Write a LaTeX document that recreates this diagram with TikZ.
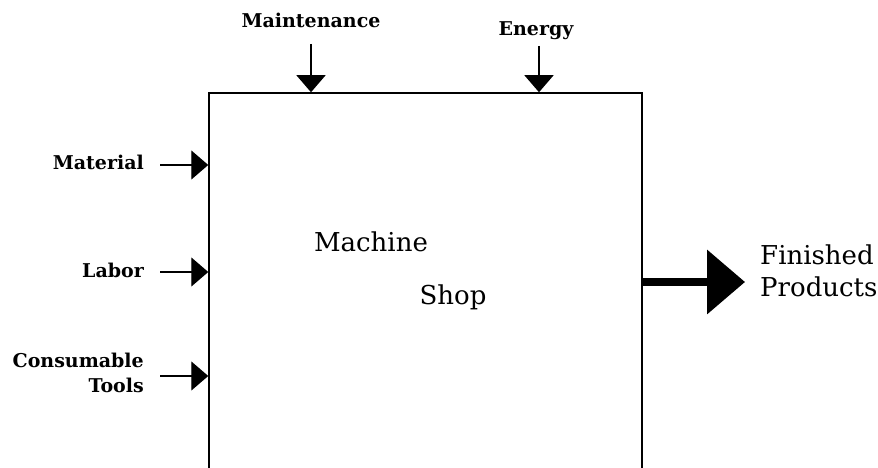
\documentclass[tikz,border=0pt]{standalone}
\usepackage{fontspec}
\setmainfont{DejaVu Serif}
\usepackage{tikz}
\usetikzlibrary{arrows.meta,positioning,calc}

\begin{document}
\begin{tikzpicture}[x=1pt, y=1pt,
  lbl/.style={font=\bfseries\fontsize{19}{25}\selectfont, inner sep=0pt},
  big/.style={font=\fontsize{26}{32}\selectfont, inner sep=0pt},
  inarrow/.style={-{Triangle[length=17pt,width=29pt]}, line width=1.3pt},
  outarrow/.style={-{Triangle[length=38pt,width=63pt]}, line width=7.5pt}]
\useasboundingbox (0,0) rectangle (878,468);
\clip (0,0) rectangle (878,468);
% the shop box, cut off at the bottom
\node[draw, line width=1.5pt, minimum width=433pt, minimum height=427pt, inner sep=0pt]
  (shop) at (425.5,161.5) {};
\node[big, anchor=base] (mach) at (371,216) {Machine};
\node[big, anchor=base] (shp) at (453,163) {Shop};
% controls from above
\node[lbl, anchor=base] (maint) at (311,440) {Maintenance};
\node[lbl, anchor=base] (enrg) at (536,432) {Energy};
\coordinate (maintin) at (311,424);
\coordinate (enrgin) at (539,422);
\draw[inarrow] (maintin) -- (maintin |- shop.north);
\draw[inarrow] (enrgin) -- (enrgin |- shop.north);
% inputs from the left
\node[lbl, anchor=base east] (mat) at (144,298) {Material};
\node[lbl, anchor=base east] (lab) at (144,190) {Labor};
\node[lbl, anchor=base east, align=right] (tools) at (144,75) {Consumable\\Tools};
\coordinate (matin) at (160,303);
\coordinate (labin) at (160,196);
\coordinate (toolsin) at (160,92);
\foreach \c in {matin, labin, toolsin}
  \draw[inarrow] (\c) -- (\c -| shop.west);
% output
\node[big, anchor=base west, align=left] (prod) at (760,171) {Finished\\Products};
\coordinate (prodout) at (745,186);
\draw[outarrow] (prodout -| shop.east) -- (prodout);
\end{tikzpicture}
\end{document}
